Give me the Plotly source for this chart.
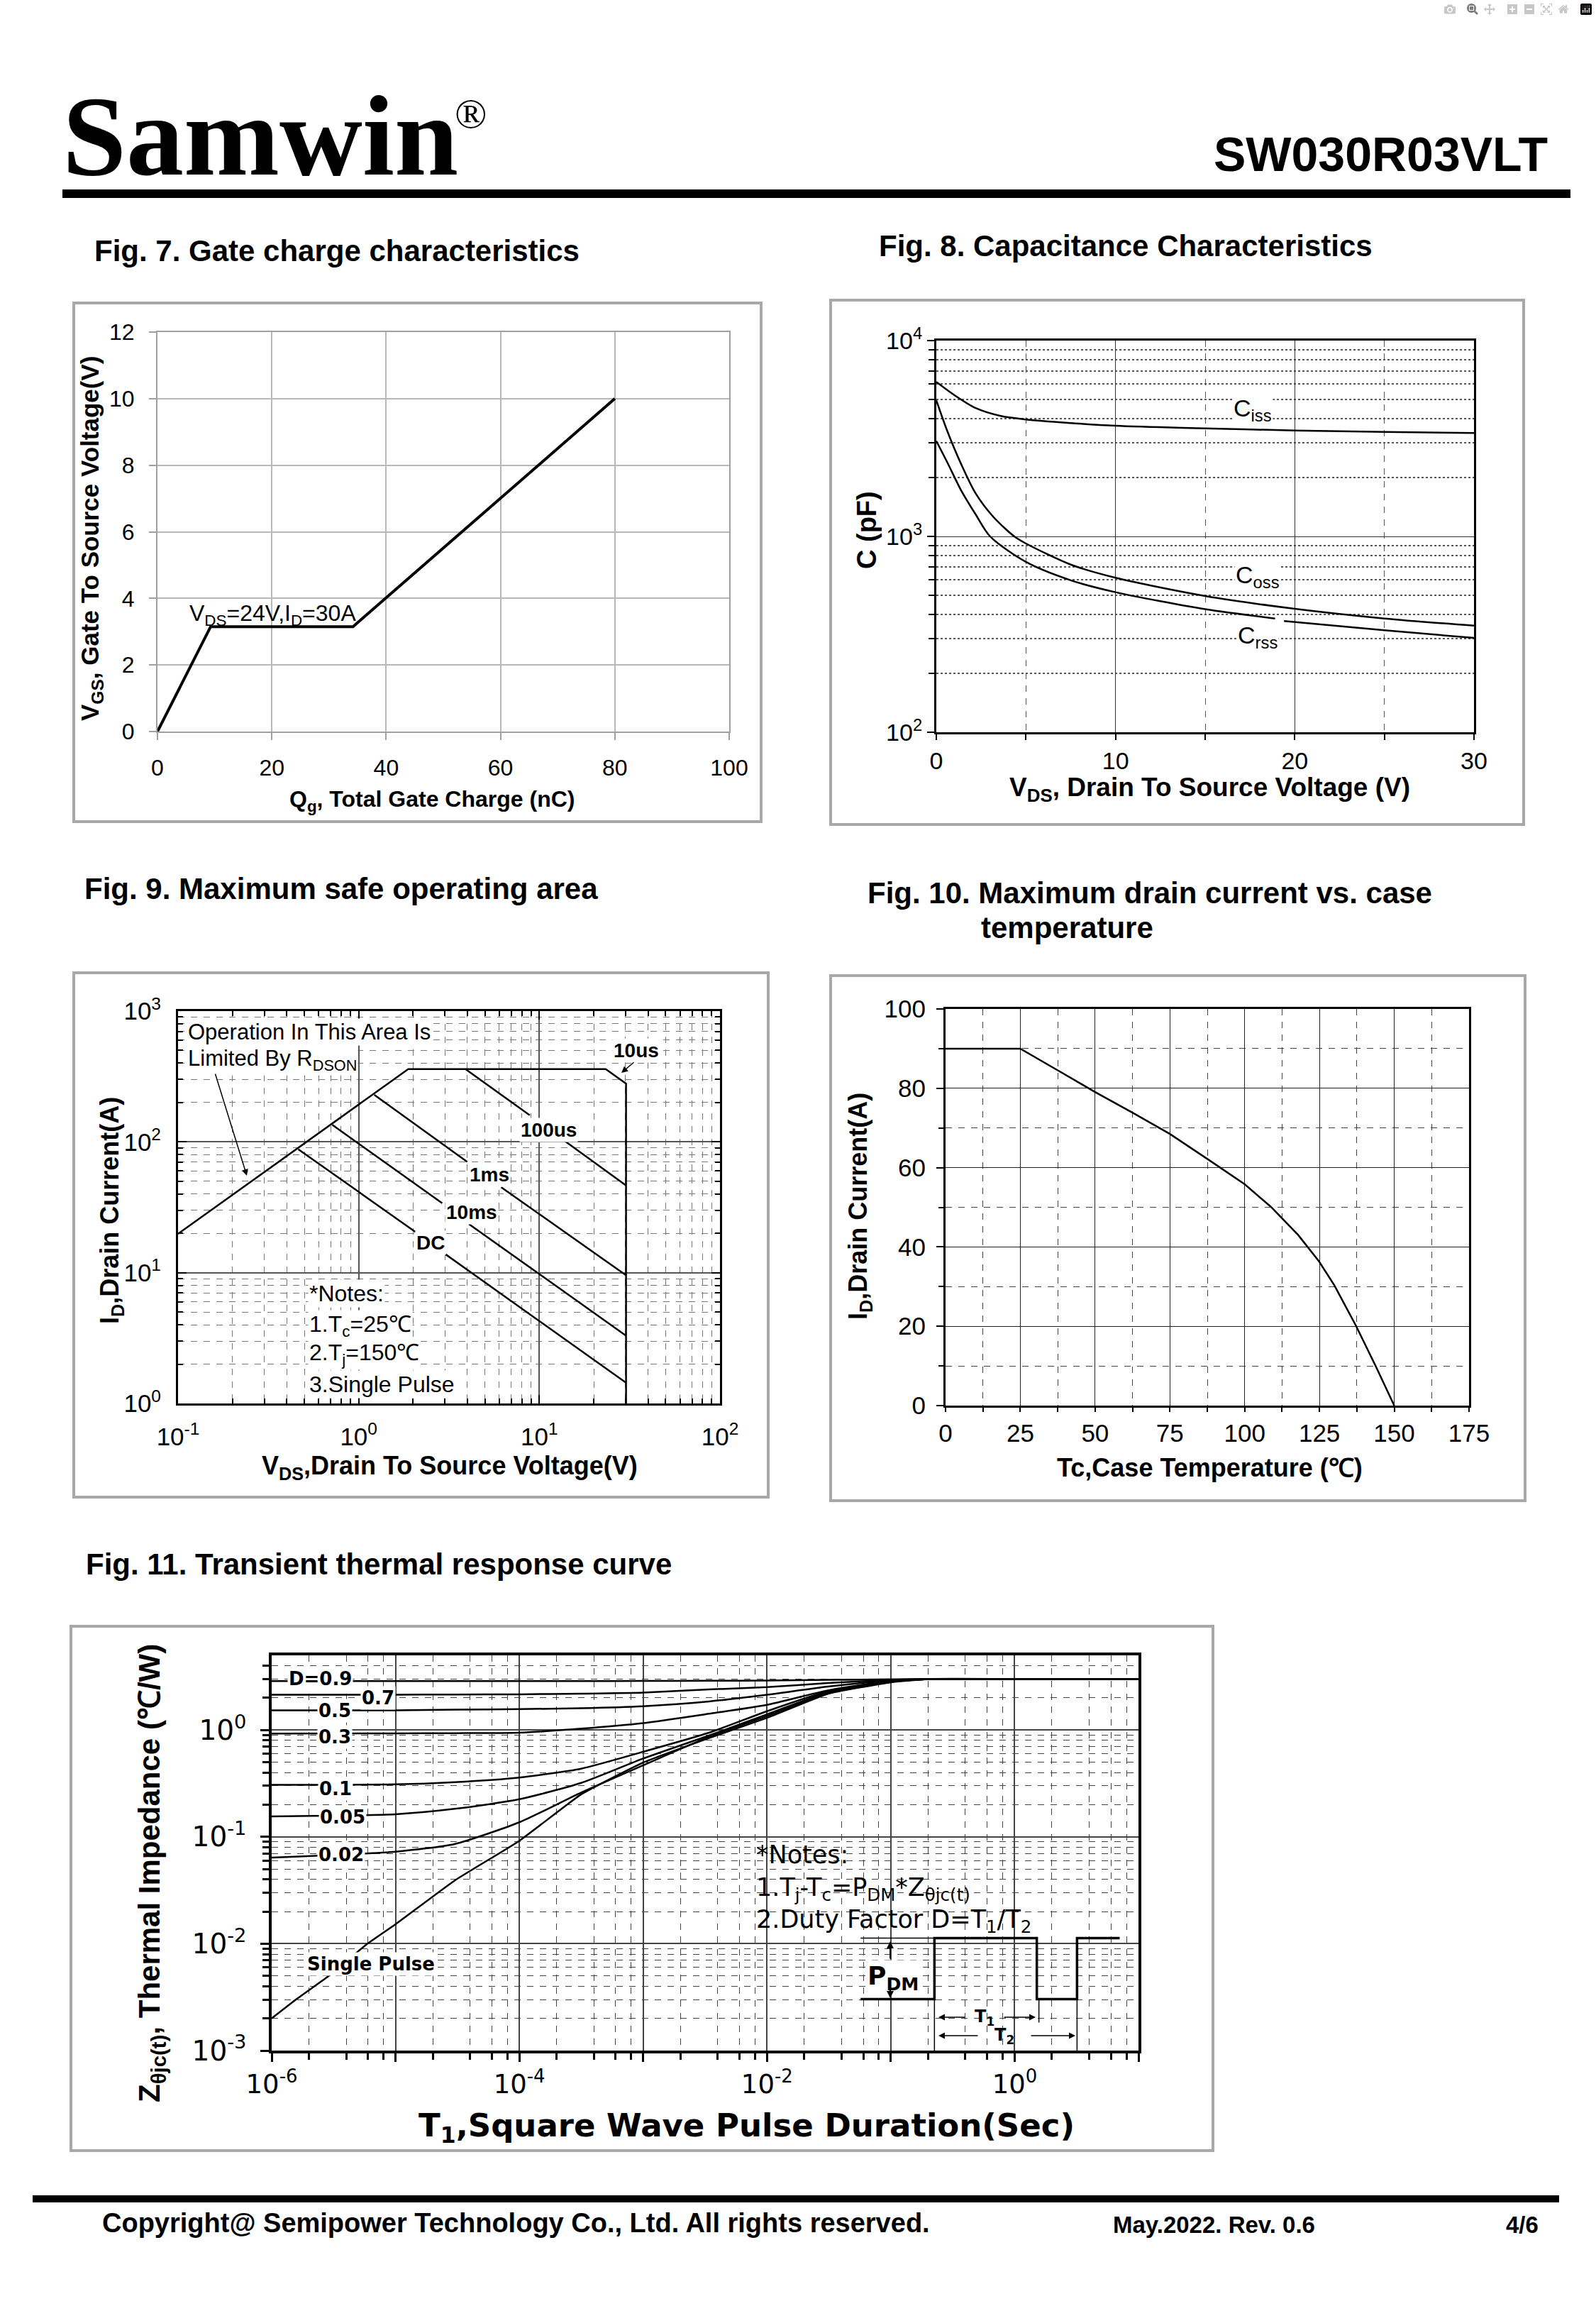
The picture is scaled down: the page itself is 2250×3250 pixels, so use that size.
import plotly.graph_objects as go

W, H = 2250, 3250


def X(px):
    return px / W


def Y(py):
    return 1 - py / H


SANS = "Liberation Sans, Arial, Helvetica, sans-serif"
SERIF = "Liberation Serif, Times New Roman, serif"
WIDE = "DejaVu Sans, Verdana, sans-serif"

# ---------------- Fig. 7 : gate charge ----------------
qg_nc = [0, 9.3, 34.2, 80]
vgs_v = [0, 3.15, 3.15, 10]
fig7_xticks = [0, 20, 40, 60, 80, 100]
fig7_yticks = [0, 2, 4, 6, 8, 10, 12]

# ---------------- Fig. 8 : capacitance ----------------
ciss_vds = [0, 1.0, 2.2, 3.6, 5.0, 10, 15, 20, 25, 30]
ciss_pf = [6150, 5270, 4520, 4120, 3955, 3673, 3565, 3475, 3413, 3370]
coss_vds = [0, 0.6, 1.4, 2.2, 3.2, 4.35, 5.0, 7.5, 10, 15, 20, 25, 30]
coss_pf = [4955, 3475, 2325, 1655, 1253, 1000, 920, 718, 615, 496, 427, 381, 350]
crss_vds = [0, 0.6, 1.4, 2.2, 3.0, 5.0, 7.5, 10, 15, 18.9, None, 19.4, 25, 30]
crss_pf = [3070, 2400, 1707, 1292, 1000, 741, 597, 519, 425, 381, None, 370, 332, 303]
fig8_xticks = [0, 10, 20, 30]
fig8_xminor = [5, 15, 25]
fig8_yticks = [100, 1000, 10000]
fig8_yticktext = ["10<sup>2</sup>", "10<sup>3</sup>", "10<sup>4</sup>"]

# ---------------- Fig. 9 : safe operating area ----------------
soa_limit_v = [0.1, 1.88, 23.3, 30.2, 30.2]
soa_limit_a = [19.8, 360, 360, 279, 1.0]
soa_100us_v = [3.90, 8.85, None, 13.9, 30.2]
soa_100us_a = [360, 160, None, 101, 46.4]
soa_1ms_v = [1.22, 3.99, None, 6.15, 30.2]
soa_1ms_a = [229, 70.3, None, 45, 9.55]
soa_10ms_v = [0.714, 2.90, None, 4.08, 30.2]
soa_10ms_a = [135, 34, None, 23.5, 3.3]
soa_dc_v = [0.463, 2.06, None, 3.03, 30.2]
soa_dc_a = [87.9, 20.5, None, 13.8, 1.44]
fig9_xticks = [0.1, 1, 10, 100]
fig9_xticktext = ["10<sup>-1</sup>", "10<sup>0</sup>", "10<sup>1</sup>", "10<sup>2</sup>"]
fig9_yticks = [1, 10, 100, 1000]
fig9_yticktext = ["10<sup>0</sup>", "10<sup>1</sup>", "10<sup>2</sup>", "10<sup>3</sup>"]
minor_digits = [2, 3, 4, 5, 6, 7, 8, 9]
even_digits = [2, 4, 6, 8]

# ---------------- Fig. 10 : drain current vs case temperature ----------------
tc_c = [0, 25, 36.9, 49.9, 62.6, 75, 87.7, 100, 108.8, 117.9, 124.9, 130, 137.3, 143.9, 150]
id_a = [90, 90, 84.8, 79.1, 73.8, 68.5, 62.1, 55.8, 50.1, 43.0, 36.3, 30.3, 20.0, 9.8, 0]
fig10_xticks = [0, 25, 50, 75, 100, 125, 150, 175]
fig10_xminor = [12.5, 37.5, 62.5, 87.5, 112.5, 137.5, 162.5]
fig10_yticks = [0, 20, 40, 60, 80, 100]
fig10_yminor = [10, 30, 50, 70, 90]

# ---------------- Fig. 11 : transient thermal impedance ----------------
t_s = [1e-6, 1e-5, 3e-5, 1e-4, 3.16e-4, 1e-3, 3.4e-3, 1e-2, 3.1e-2, 1e-1, 2e-1, 1, 10]
z_d09 = [2.87, 2.87, 2.87, 2.87, 2.87, 2.88, 2.89, 2.91, 2.95, 2.98, 3.0, 3.0, 3.0]
z_d07 = [2.14, 2.14, 2.15, 2.16, 2.19, 2.24, 2.40, 2.52, 2.75, 2.95, 3.0, 3.0, 3.0]
z_d05 = [1.53, 1.53, 1.55, 1.57, 1.60, 1.67, 1.85, 2.14, 2.55, 2.92, 3.0, 3.0, 3.0]
z_d03 = [0.927, 0.93, 0.935, 0.945, 1.03, 1.16, 1.42, 1.72, 2.35, 2.88, 3.0, 3.0, 3.0]
z_d01 = [0.307, 0.31, 0.325, 0.359, 0.435, 0.626, 0.944, 1.50, 2.30, 2.85, 3.0, 3.0, 3.0]
z_d005 = [0.1555, 0.163, 0.183, 0.225, 0.32, 0.541, 0.889, 1.40, 2.25, 2.83, 3.0, 3.0, 3.0]
z_d002 = [0.064, 0.0727, 0.0857, 0.137, 0.26, 0.468, 0.863, 1.35, 2.20, 2.82, 3.0, 3.0, 3.0]
t_single = [1e-6, 1.6e-6, 3e-6, 5.8e-6, 1e-5, 3e-5, 1e-4, 3.16e-4, 1e-3, 3.4e-3, 1e-2, 3.1e-2, 1e-1, 2e-1, 1, 10]
z_single = [0.0020, 0.00305, 0.00516, 0.0098, 0.0152, 0.039, 0.0918, 0.25, 0.496, 0.84, 1.30, 2.18, 2.80, 3.0, 3.0, 3.0]
pdm_t = [0.057, 0.225, 0.225, 1.51, 1.51, 3.19, 3.19, 7.05]
pdm_z = [0.00303, 0.00303, 0.0113, 0.0113, 0.00303, 0.00303, 0.0113, 0.0113]
pdm_ref_t = [0.057, 0.225]
pdm_ref_z = [0.0113, 0.0113]
fig11_xticks = [1e-6, 1e-5, 1e-4, 1e-3, 1e-2, 1e-1, 1, 10]
fig11_xticktext = ["10<sup>-6</sup>", "", "10<sup>-4</sup>", "", "10<sup>-2</sup>", "", "10<sup>0</sup>", ""]
fig11_yticks = [1e-3, 1e-2, 1e-1, 1]
fig11_yticktext = ["10<sup>-3</sup>", "10<sup>-2</sup>", "10<sup>-1</sup>", "10<sup>0</sup>"]

fig = go.Figure()


def add_line(x, y, n, width=2.5, shape="linear", smoothing=None):
    ln = dict(color="black", width=width, shape=shape)
    if smoothing is not None:
        ln["smoothing"] = smoothing
    fig.add_trace(go.Scatter(
        x=x, y=y, mode="lines", line=ln,
        xaxis="x" if n == 1 else f"x{n}", yaxis="y" if n == 1 else f"y{n}",
        hoverinfo="skip", showlegend=False, connectgaps=False))


# Fig 7
add_line(qg_nc, vgs_v, 1, width=4)
# Fig 8
add_line(ciss_vds, ciss_pf, 2, width=2.5, shape="spline", smoothing=0.8)
add_line(coss_vds, coss_pf, 2, width=2.5, shape="spline", smoothing=0.8)
add_line(crss_vds, crss_pf, 2, width=2.5, shape="spline", smoothing=0.8)
# Fig 9
add_line(soa_limit_v, soa_limit_a, 3, width=2.5)
for vv, aa in [(soa_100us_v, soa_100us_a), (soa_1ms_v, soa_1ms_a),
               (soa_10ms_v, soa_10ms_a), (soa_dc_v, soa_dc_a)]:
    add_line(vv, aa, 3, width=2.5)
# Fig 10
add_line(tc_c, id_a, 4, width=2.5)
# Fig 11
for zz in [z_d09, z_d07, z_d05, z_d03, z_d01, z_d005, z_d002]:
    add_line(t_s, zz, 5, width=2.5, shape="spline", smoothing=0.6)
add_line(t_single, z_single, 5, width=2.5, shape="spline", smoothing=0.4)
add_line(pdm_t, pdm_z, 5, width=3.5)
add_line(pdm_ref_t, pdm_ref_z, 5, width=1.5)
add_line([0.225, 0.225], [0.00303, 0.001], 5, width=1.5)
add_line([1.57, 1.57], [0.00303, 0.00183], 5, width=1.5)
add_line([3.19, 3.19], [0.00303, 0.001], 5, width=1.5)


def tf(size, family=SANS):
    return dict(family=family, size=size, color="black")


lay = dict(
    width=W, height=H, autosize=False,
    margin=dict(l=0, r=0, t=0, b=0, pad=0),
    paper_bgcolor="white", plot_bgcolor="white",
    font=dict(family=SANS, color="black"),
    showlegend=False,
)

g7 = "#b8b8b8"
lay["xaxis"] = dict(domain=[X(222), X(1028)], anchor="y", range=[0, 100], automargin=False,
                    tickvals=fig7_xticks, showgrid=True, gridcolor=g7, gridwidth=2,
                    showline=True, linecolor="#a0a0a0", linewidth=2, mirror=True,
                    ticks="outside", ticklen=10, tickwidth=2, tickcolor="#a0a0a0",
                    zeroline=False, tickfont=tf(32), ticklabelstandoff=12)
lay["yaxis"] = dict(domain=[Y(1031), Y(468)], anchor="x", range=[0, 12], automargin=False,
                    tickvals=fig7_yticks, showgrid=True, gridcolor=g7, gridwidth=2,
                    showline=True, linecolor="#a0a0a0", linewidth=2, mirror=True,
                    ticks="outside", ticklen=10, tickwidth=2, tickcolor="#a0a0a0",
                    zeroline=False, tickfont=tf(32), ticklabelstandoff=14)

lay["xaxis2"] = dict(domain=[X(1320), X(2078)], anchor="y2", range=[0, 30], automargin=False,
                     tickvals=fig8_xticks, showgrid=True, gridcolor="#333333", gridwidth=1.2,
                     minor=dict(tickvals=fig8_xminor, showgrid=True, gridcolor="#555555",
                                griddash="dash", gridwidth=1.2, ticks="outside", ticklen=8,
                                tickcolor="black"),
                     showline=True, linecolor="black", linewidth=3, mirror=True,
                     ticks="outside", ticklen=8, tickwidth=2, tickcolor="black",
                     zeroline=False, tickfont=tf(34), ticklabelstandoff=0)
lay["yaxis2"] = dict(domain=[Y(1032), Y(480)], anchor="x2", type="log", range=[2, 4], automargin=False,
                     tickvals=fig8_yticks, ticktext=fig8_yticktext,
                     showgrid=True, gridcolor="#333333", gridwidth=1.2,
                     minor=dict(tickvals=[d * 100 for d in minor_digits] + [d * 1000 for d in minor_digits],
                                showgrid=True, gridcolor="#555555", griddash="dot", gridwidth=1.5,
                                ticks="outside", ticklen=8, tickcolor="black"),
                     showline=True, linecolor="black", linewidth=3, mirror=True,
                     ticks="outside", ticklen=10, tickwidth=2, tickcolor="black",
                     zeroline=False, tickfont=tf(34), ticklabelstandoff=0)

lay["xaxis3"] = dict(domain=[X(251), X(1015)], anchor="y3", type="log", range=[-1, 2], automargin=False,
                     tickvals=fig9_xticks, ticktext=fig9_xticktext,
                     showgrid=True, gridcolor="#555555", gridwidth=1.5,
                     minor=dict(tickvals=[d * m for m in (0.1, 1, 10) for d in minor_digits],
                                showgrid=True, gridcolor="#777777", griddash="dash", gridwidth=1.2,
                                ticks="inside", ticklen=7, tickcolor="black"),
                     showline=True, linecolor="black", linewidth=3, mirror="allticks",
                     ticks="inside", ticklen=12, tickwidth=2, tickcolor="black",
                     zeroline=False, tickfont=tf(35), ticklabelstandoff=14)
lay["yaxis3"] = dict(domain=[Y(1978), Y(1425)], anchor="x3", type="log", range=[0, 3], automargin=False,
                     tickvals=fig9_yticks, ticktext=fig9_yticktext,
                     showgrid=True, gridcolor="#555555", gridwidth=1.5,
                     minor=dict(tickvals=[d * m for m in (1, 10, 100) for d in minor_digits],
                                showgrid=True, gridcolor="#777777", griddash="dash", gridwidth=1.2,
                                ticks="inside", ticklen=7, tickcolor="black"),
                     showline=True, linecolor="black", linewidth=3, mirror="allticks",
                     ticks="inside", ticklen=12, tickwidth=2, tickcolor="black",
                     zeroline=False, tickfont=tf(35), ticklabelstandoff=14)

lay["xaxis4"] = dict(domain=[X(1333), X(2071)], anchor="y4", range=[0, 175], automargin=False,
                     tickvals=fig10_xticks, showgrid=True, gridcolor="#222222", gridwidth=1.2,
                     minor=dict(tickvals=fig10_xminor, showgrid=True, gridcolor="#444444",
                                griddash="dash", gridwidth=1.2, ticks="outside", ticklen=6,
                                tickcolor="black"),
                     showline=True, linecolor="black", linewidth=3, mirror=True,
                     ticks="outside", ticklen=6, tickwidth=2, tickcolor="black",
                     zeroline=False, tickfont=tf(35), ticklabelstandoff=0)
lay["yaxis4"] = dict(domain=[Y(1981), Y(1422)], anchor="x4", range=[0, 100], automargin=False,
                     tickvals=fig10_yticks, showgrid=True, gridcolor="#222222", gridwidth=1.2,
                     minor=dict(tickvals=fig10_yminor, showgrid=True, gridcolor="#444444",
                                griddash="dash", gridwidth=1.2, ticks="outside", ticklen=7,
                                tickcolor="black"),
                     showline=True, linecolor="black", linewidth=3, mirror=True,
                     ticks="outside", ticklen=10, tickwidth=2, tickcolor="black",
                     zeroline=False, tickfont=tf(35), ticklabelstandoff=8)

lay["xaxis5"] = dict(domain=[X(383), X(1605)], anchor="y5", type="log", range=[-6, 1], automargin=False,
                     tickvals=fig11_xticks, ticktext=fig11_xticktext,
                     showgrid=True, gridcolor="#444444", gridwidth=1.5,
                     minor=dict(tickvals=[d * 10 ** e for e in range(-6, 1) for d in even_digits],
                                showgrid=True, gridcolor="#444444", griddash="dash", gridwidth=1.2,
                                ticks="outside", ticklen=9, tickcolor="black"),
                     showline=True, linecolor="black", linewidth=3.5, mirror=True,
                     ticks="outside", ticklen=12, tickwidth=2.5, tickcolor="black",
                     zeroline=False, tickfont=tf(37, WIDE), ticklabelstandoff=0)
lay["yaxis5"] = dict(domain=[Y(2890), Y(2333)], anchor="x5", type="log", range=[-3, 0.699], automargin=False,
                     tickvals=fig11_yticks, ticktext=fig11_yticktext,
                     showgrid=True, gridcolor="#444444", gridwidth=1.5,
                     minor=dict(tickvals=[d * 10 ** e for e in range(-3, 0) for d in minor_digits] + [2, 3, 4],
                                showgrid=True, gridcolor="#444444", griddash="dash", gridwidth=1.2,
                                ticks="outside", ticklen=9, tickcolor="black"),
                     showline=True, linecolor="black", linewidth=3.5, mirror=True,
                     ticks="outside", ticklen=12, tickwidth=2.5, tickcolor="black",
                     zeroline=False, tickfont=tf(39, WIDE), ticklabelstandoff=12)

# ---------------- shapes (frames, rules) ----------------
shapes = []


def rect(x0, y0, x1, y1, fill=None, line_color=None, lw=0):
    d = dict(type="rect", xref="paper", yref="paper", x0=X(x0), x1=X(x1), y0=Y(y1), y1=Y(y0),
             layer="below")
    if fill:
        d["fillcolor"] = fill
    d["line"] = dict(color=line_color or "rgba(0,0,0,0)", width=lw)
    shapes.append(d)


rect(88, 267, 2214, 279, fill="black")
rect(46, 3094, 2198, 3104, fill="black")
for (x0, y0, x1, y1) in [(104, 427, 1073, 1158), (1171, 423, 2148, 1162),
                         (104, 1371, 1083, 2110), (1171, 1375, 2150, 2115),
                         (100, 2292, 1710, 3031)]:
    rect(x0, y0, x1, y1, line_color="#a8a8a8", lw=4)

# ---------------- annotations ----------------
ann = []


def txt(s, x, y, size, family=SANS, bold=False, xa="center", ya="middle", angle=0, bg=None):
    d = dict(text=f"<b>{s}</b>" if bold else s, x=X(x), y=Y(y), xref="paper", yref="paper",
             xanchor=xa, yanchor=ya, showarrow=False, textangle=angle, align="left",
             font=dict(family=family, size=size, color="black"))
    if bg:
        d.update(bgcolor=bg, borderpad=1)
    ann.append(d)


def arrow(hx, hy, tx, ty, width=1.5, head=2, size=1.0):
    ann.append(dict(text="", x=X(hx), y=Y(hy), xref="paper", yref="paper",
                    ax=tx - hx, ay=ty - hy, axref="pixel", ayref="pixel",
                    showarrow=True, arrowhead=head, arrowwidth=width, arrowsize=size,
                    arrowcolor="black"))


# header
txt("Samwin", 86, 192, 162, family=SERIF, bold=True, xa="left")
txt("®", 664, 160, 60, family=SERIF)
txt("SW030R03VLT", 2184, 217, 68, bold=True, xa="right")

# section titles
txt("Fig. 7. Gate charge characteristics", 131, 354, 42, bold=True, xa="left")
txt("Fig. 8. Capacitance Characteristics", 1237, 346, 42, bold=True, xa="left")
txt("Fig. 9. Maximum safe operating area", 117, 1252, 42, bold=True, xa="left")
txt("Fig. 10. Maximum drain current vs. case", 1221, 1258, 42, bold=True, xa="left")
txt("temperature", 1381, 1308, 42, bold=True, xa="left")
txt("Fig. 11. Transient thermal response curve", 119, 2204, 42, bold=True, xa="left")

# footer
txt("Copyright@ Semipower Technology Co., Ltd. All rights reserved.", 142, 3133, 38, bold=True, xa="left")
txt("May.2022. Rev. 0.6", 1567, 3135, 33, bold=True, xa="left")
txt("4/6", 2121, 3135, 33, bold=True, xa="left")

# Fig 7 texts
txt("V<sub>GS</sub>, Gate To Source Voltage(V)", 129, 759, 35, bold=True, angle=-90)
txt("Q<sub>g</sub>, Total Gate Charge (nC)", 609, 1128, 32, bold=True)
txt("V<sub>DS</sub>=24V,I<sub>D</sub>=30A", 265, 866, 32, xa="left")

# Fig 8 texts
txt("C (pF)", 1222, 747, 38, bold=True, angle=-90)
txt("V<sub>DS</sub>, Drain To Source Voltage (V)", 1705, 1112, 37, bold=True)
txt("C<sub>iss</sub>", 1737, 577, 34, xa="left", bg="white")
txt("C<sub>oss</sub>", 1740, 812, 34, xa="left", bg="white")
txt("C<sub>rss</sub>", 1743, 897, 34, xa="left", bg="white")

# Fig 9 texts
txt("I<sub>D</sub>,Drain Current(A)", 157, 1706, 36, bold=True, angle=-90)
txt("V<sub>DS</sub>,Drain To Source Voltage(V)", 634, 2068, 36, bold=True)
txt("Operation In This Area Is", 263, 1455, 31, xa="left", bg="white")
txt("Limited By R<sub>DSON</sub>", 263, 1494, 31, xa="left", bg="white")
arrow(348, 1657, 303, 1512, width=1.5, head=2, size=1.2)
txt("10us", 897, 1481, 28, bold=True, bg="white")
arrow(876, 1512, 895, 1496, width=1.5, head=2, size=1.2)
txt("100us", 774, 1592, 28, bold=True, bg="white")
txt("1ms", 690, 1655, 28, bold=True, bg="white")
txt("10ms", 665, 1708, 28, bold=True, bg="white")
txt("DC", 607, 1751, 28, bold=True, bg="white")
txt("*Notes:", 434, 1823, 32, xa="left", bg="white")
txt("1.T<sub>c</sub>=25℃", 434, 1868, 32, xa="left", bg="white")
txt("2.T<sub>j</sub>=150℃", 434, 1908, 32, xa="left", bg="white")
txt("3.Single Pulse", 434, 1951, 32, xa="left", bg="white")

# Fig 10 texts
txt("I<sub>D</sub>,Drain Current(A)", 1212, 1700, 36, bold=True, angle=-90)
txt("Tc,Case Temperature (℃)", 1705, 2068, 36, bold=True)

# Fig 11 texts
txt("Z<sub>θjc(t)</sub>, Thermal Impedance (℃/W)", 213, 2640, 42, bold=True, angle=-90)
txt("T<sub>1</sub>,Square Wave Pulse Duration(Sec)", 1052, 2998, 45, family=WIDE, bold=True)
for lab, lx, ly in [("D=0.9", 451, 2366), ("0.7", 533, 2393), ("0.5", 472, 2411),
                    ("0.3", 472, 2448), ("0.1", 473, 2521), ("0.05", 483, 2561),
                    ("0.02", 481, 2614), ("Single Pulse", 523, 2768)]:
    txt(lab, lx, ly, 26, family=WIDE, bold=True, bg="white")
txt("*Notes:<br>1.T<sub>j</sub>-T<sub>c</sub>=P<sub>DM</sub>*Z<sub>θjc(t)</sub><br>"
    "2.Duty Factor D=T<sub>1</sub>/T<sub>2</sub>", 1064, 2662, 35, family=WIDE, xa="left")
txt("P<sub>DM</sub>", 1259, 2787, 36, family=WIDE, bold=True, bg="white")
arrow(1255, 2736, 1255, 2762, width=2, head=2, size=1)
arrow(1255, 2816, 1255, 2794, width=2, head=2, size=1)
txt("T<sub>1</sub>", 1388, 2843, 24, family=WIDE, bold=True)
arrow(1323, 2843, 1362, 2843, width=1.5, head=2, size=1.2)
arrow(1460, 2843, 1414, 2843, width=1.5, head=2, size=1.2)
txt("T<sub>2</sub>", 1416, 2869, 24, family=WIDE, bold=True)
arrow(1323, 2869, 1380, 2869, width=1.5, head=2, size=1.2)
arrow(1516, 2869, 1452, 2869, width=1.5, head=2, size=1.2)

lay["shapes"] = shapes
lay["annotations"] = ann
fig.update_layout(**lay)

fig.write_html("out.html", include_plotlyjs=True, full_html=True,
               post_script="document.body.style.margin='0';document.body.style.padding='0';")
